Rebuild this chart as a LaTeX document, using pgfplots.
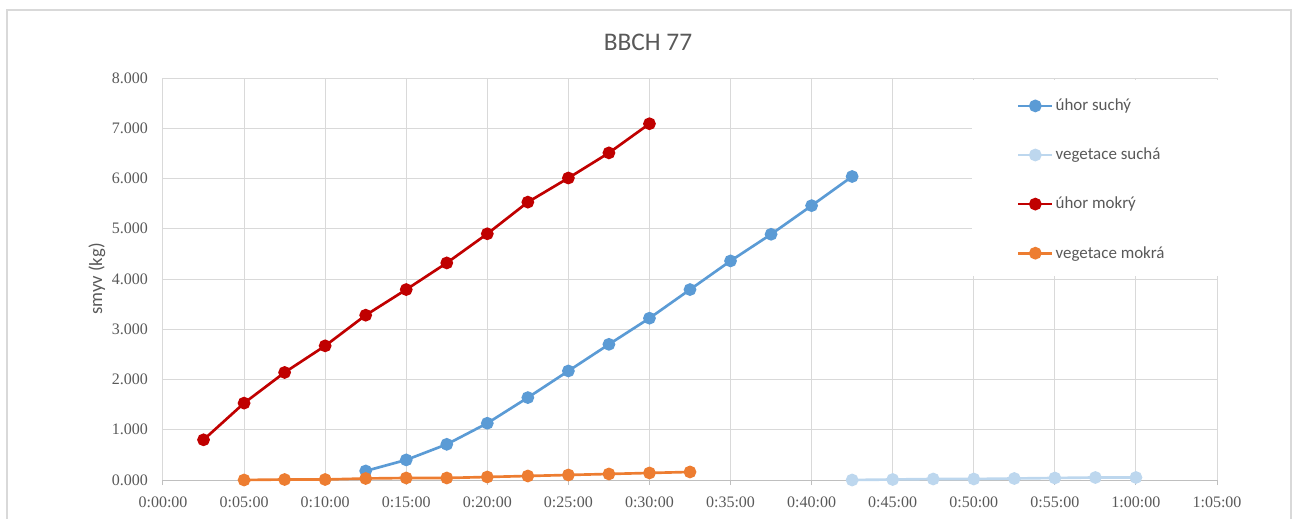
\documentclass[border=0pt]{standalone}
\usepackage{fontspec}
\setmainfont{Carlito}
\newfontfamily\tickfont{Liberation Serif}
\usepackage{pgfplots}
\pgfplotsset{compat=1.18}
\definecolor{cBlue}{HTML}{5B9BD5}
\definecolor{cLight}{HTML}{BDD7EE}
\definecolor{cRed}{HTML}{C00000}
\definecolor{cOrange}{HTML}{ED7D31}
\definecolor{cGrid}{HTML}{D9D9D9}
\definecolor{cText}{HTML}{595959}
\definecolor{cAxis}{HTML}{BFBFBF}
\begin{document}
\begin{tikzpicture}
\useasboundingbox (-122.25pt,-28.5pt) rectangle (852pt,360pt);
\draw[cGrid, line width=1.5pt] (-117pt,-40pt) rectangle (846pt,352.5pt);
\begin{axis}[
  at={(0,0)}, anchor=south west,
  scale only axis, width=790.5pt, height=301.5pt,
  xmin=0, xmax=65, ymin=0, ymax=8,
  xtick={0,5,...,65},
  xticklabels={0:00:00,0:05:00,0:10:00,0:15:00,0:20:00,0:25:00,0:30:00,0:35:00,0:40:00,0:45:00,0:50:00,0:55:00,1:00:00,1:05:00},
  ytick={0,1,...,8},
  yticklabels={0.000,1.000,2.000,3.000,4.000,5.000,6.000,7.000,8.000},
  axis x line=bottom, axis y line=left,
  x axis line style={draw=cAxis, line width=0.75pt, -},
  y axis line style={draw=none, -},
  tick align=outside, major tick length=3.75pt,
  xtick style={draw=cAxis, line width=0.75pt},
  ytick style={draw=none},
  grid=major, major grid style={draw=cGrid, line width=0.75pt},
  tick label style={font=\tickfont\fontsize{12}{14}\selectfont, text=cText},
  xticklabel style={yshift=-5pt},
  yticklabel style={xshift=-4pt},
  clip=false,
  legend style={at={(axis description cs:0.810,0.955)}, anchor=north west,
    draw=none, fill=none, font=\fontsize{12.7}{15}\selectfont, text=cText,
    row sep=22.5pt, inner sep=0pt, nodes={inner xsep=1.5pt}},
  legend cell align=left,
  legend image code/.code={\draw[mark repeat=2,mark phase=2,#1] plot coordinates {(0pt,0pt)(12.75pt,0pt)(25.5pt,0pt)};},
  every axis plot/.append style={line width=2pt, mark=*, mark size=3.75pt},
]
\addplot[cBlue, mark options={fill=cBlue, draw=cBlue}] coordinates {
(12.5,0.18)(15,0.40)(17.5,0.71)(20,1.13)(22.5,1.64)(25,2.17)(27.5,2.70)(30,3.22)(32.5,3.79)(35,4.36)(37.5,4.89)(40,5.46)(42.5,6.04)};
\addlegendentry{úhor suchý}
\addplot[cLight, mark options={fill=cLight, draw=cLight}] coordinates {
(42.5,0.00)(45,0.01)(47.5,0.02)(50,0.02)(52.5,0.03)(55,0.04)(57.5,0.05)(60,0.05)};
\addlegendentry{vegetace suchá}
\addplot[cRed, mark options={fill=cRed, draw=cRed}] coordinates {
(2.5,0.80)(5,1.53)(7.5,2.14)(10,2.67)(12.5,3.28)(15,3.79)(17.5,4.32)(20,4.90)(22.5,5.53)(25,6.01)(27.5,6.51)(30,7.09)};
\addlegendentry{úhor mokrý}
\addplot[cOrange, mark options={fill=cOrange, draw=cOrange}] coordinates {
(5,0.00)(7.5,0.01)(10,0.01)(12.5,0.03)(15,0.04)(17.5,0.04)(20,0.06)(22.5,0.08)(25,0.10)(27.5,0.12)(30,0.14)(32.5,0.16)};
\addlegendentry{vegetace mokrá}
\fill[white] (axis cs:49.9,4.05) rectangle (axis cs:65.3,7.96);
\end{axis}
\node[text=cText, font=\fontsize{19}{23}\selectfont] at (363.75pt,328.5pt) {BBCH 77};
\node[text=cText, font=\fontsize{14}{17}\selectfont, rotate=90] at (-49.5pt,150.75pt) {smyv (kg)};
\end{tikzpicture}
\end{document}
